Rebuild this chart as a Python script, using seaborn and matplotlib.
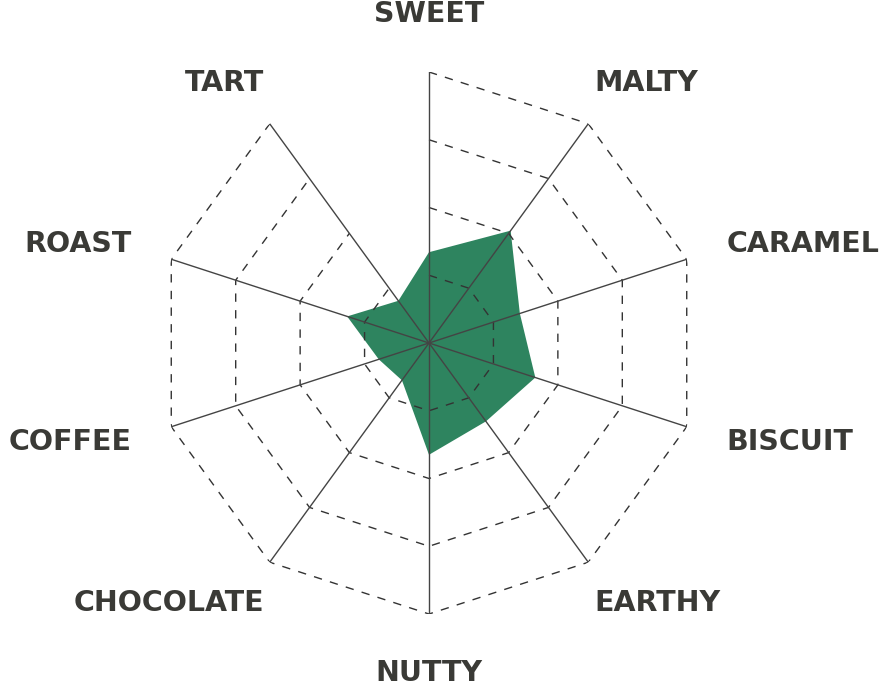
import numpy as np
import seaborn as sns
import matplotlib.pyplot as plt

# flavour wheel, values on a 0-4 scale, clockwise from the top
flavours = ["SWEET", "MALTY", "CARAMEL", "BISCUIT", "EARTHY",
            "NUTTY", "CHOCOLATE", "COFFEE", "ROAST", "TART"]
scores = [1.34, 2.05, 1.41, 1.65, 1.43, 1.65, 0.68, 0.78, 1.27, 0.77]
levels = [1, 2, 3, 4]

sns.set_theme(style="white")
plt.rcParams["font.family"] = ["DejaVu Sans"]

n = len(flavours)
angles = np.linspace(0, 2 * np.pi, n, endpoint=False)
closed = np.append(angles, angles[0])

fig = plt.figure(figsize=(8.88, 6.89), dpi=100)
ax = fig.add_axes([158 / 888, 75 / 689, 542 / 888, 542 / 689], projection="polar")
ax.set_theta_zero_location("N")
ax.set_theta_direction(-1)
ax.set_ylim(0, levels[-1])
ax.grid(False)
ax.spines["polar"].set_visible(False)
ax.set_xticks([])
ax.set_yticks([])
ax.set_facecolor("none")

# filled profile
vals = np.append(scores, scores[0])
ax.fill(closed, vals, color="#2e845f", linewidth=0, zorder=1)

# dashed decagon rings
for lv in levels:
    sns.lineplot(x=closed, y=[lv] * (n + 1), sort=False, ax=ax,
                 color="#333333", linewidth=1, dashes=False, zorder=2)
    ax.lines[-1].set_linestyle((0, (6, 6)))

# spokes
for a in angles:
    ax.plot([a, a], [0, levels[-1]], color="#444444", linewidth=1, zorder=3)

# labels
for a, name in zip(angles, flavours):
    s, c = np.sin(a), np.cos(a)
    dy = 50 * c
    if abs(s) < 0.01:
        ha = "center"
        if c > 0:
            va = "baseline"
        else:
            va, dy = "bottom", -73
    else:
        ha = "left" if s > 0 else "right"
        va = "center"
    dx = 49 * np.sign(s) * s ** 4
    ax.annotate(name, xy=(a, levels[-1]), xytext=(dx, dy),
                textcoords="offset pixels", ha=ha, va=va,
                fontsize=20.5, fontweight="bold", color="#3a3a36",
                annotation_clip=False)

fig.savefig("out.png", dpi=100)
